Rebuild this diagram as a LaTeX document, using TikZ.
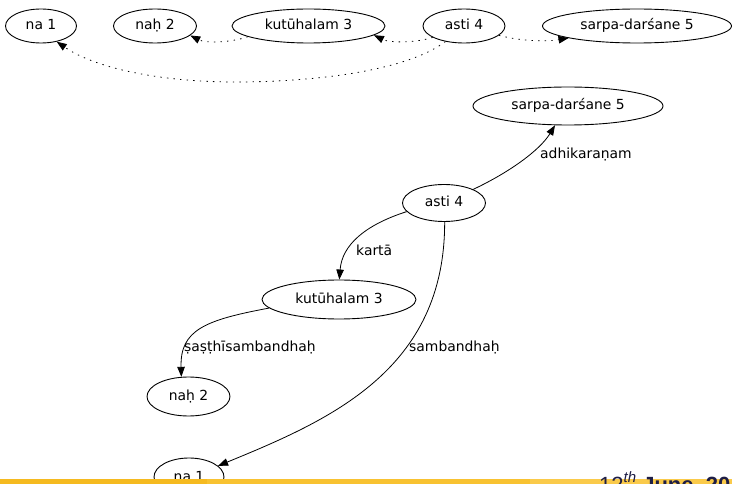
\documentclass[tikz,border=0pt]{standalone}
\usepackage{fontspec}
\setmainfont{DejaVu Sans}
\newfontfamily\footerfont{Liberation Sans}
\usetikzlibrary{arrows.meta,shapes.geometric}

\definecolor{barA}{HTML}{F5BA20}
\definecolor{barB}{HTML}{F8C231}
\definecolor{barC}{HTML}{FACA4A}
\definecolor{footink}{HTML}{1E1E46}

\begin{document}
\begin{tikzpicture}[x=1pt,y=-1pt,
  word/.style={ellipse,draw,line width=0.9pt,inner sep=0pt,
    text height=10pt,text depth=2pt,font=\fontsize{13.9}{16}\selectfont},
  rel/.style={anchor=west,inner sep=0pt,text height=10pt,text depth=2pt,
    font=\fontsize{13.9}{16}\selectfont},
  link/.style={line width=0.8pt,-{Triangle[length=10pt,width=7.5pt]}},
  weak/.style={link,dash pattern=on 1.4pt off 5.2pt},
]
\useasboundingbox (0,0) rectangle (732,484);
\clip (0,0) rectangle (732,484);

% ---- linear order of the words (top row) ----
\node[word,minimum width=71pt,minimum height=34pt]  (t1) at (41,26)    {na 1};
\node[word,minimum width=83pt,minimum height=34pt]  (t2) at (155,26)   {naḥ 2};
\node[word,minimum width=153pt,minimum height=34pt] (t3) at (308.5,26) {kutūhalam 3};
\node[word,minimum width=82pt,minimum height=34pt]  (t4) at (464,26)   {asti 4};
\node[word,minimum width=189pt,minimum height=34pt] (t5) at (637,26)   {sarpa-darśane 5};

\draw[weak] (t3.-170) .. controls (230,43) and (205,43) .. (t2.-15);
\draw[weak] (t4.-160) .. controls (415,43) and (390,43) .. (t3.-8);
\draw[weak] (t4.-15) .. controls (520,41) and (545,42) .. (t5.-170);
\draw[weak] (t4.-140) .. controls (405,72) and (310,82) .. (235,82)
                      .. controls (160,82) and (95,68) .. (t1.-45);

% ---- dependency tree ----
\node[word,minimum width=190pt,minimum height=38pt] (b5) at (568,106)   {sarpa-darśane 5};
\node[word,minimum width=83pt,minimum height=37pt]  (b4) at (444,203)   {asti 4};
\node[word,minimum width=154pt,minimum height=39pt] (b3) at (339,299.5) {kutūhalam 3};
\node[word,minimum width=83pt,minimum height=39pt]  (b2) at (188.5,396.5){naḥ 2};
\node[word,minimum width=70pt,minimum height=38pt]  (b1) at (189,477)   {na 1};

\draw[link] (b4.25) .. controls (510,172) and (540,150) .. (b5.-124);
\draw[link] (b4.193) .. controls (365,225) and (342,245) .. (b3.89);
\draw[link] (b3.-173) .. controls (205,320) and (180,330) .. (b2.110);
\draw[link] (b4.-88) .. controls (445,370) and (330,420) .. (b1.21);

\node[rel] (l1) at (540,155)   {adhikaraṇam};
\node[rel] (l2) at (356,251.5) {kartā};
\node[rel] (l3) at (184,347.5) {ṣaṣṭhīsambandhaḥ};
\node[rel] (l4) at (409,347.5) {sambandhaḥ};

% ---- footer strip ----
\fill[barA] (0,479) rectangle (207,484);
\fill[barB] (207,479) rectangle (530,484);
\fill[barC] (530,479) rectangle (732,484);
\node[anchor=base west,inner sep=0pt,text=footink,
      font=\footerfont\fontsize{22}{24}\selectfont] (date) at (599,492)
  {12\raisebox{0.42em}{\fontsize{15}{15}\selectfont\itshape th} \textbf{June, 20}};
\end{tikzpicture}
\end{document}
